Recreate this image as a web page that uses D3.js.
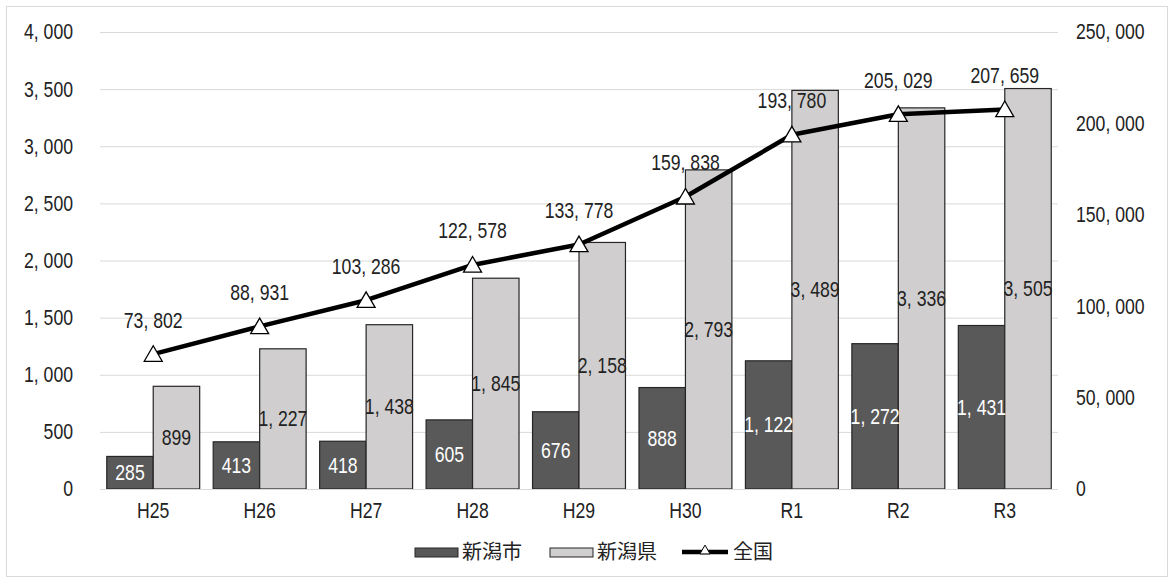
<!DOCTYPE html>
<html><head><meta charset="utf-8">
<script src="https://cdn.jsdelivr.net/npm/d3@7"></script>
<style>
body{margin:0;background:#fff;}
text{font-family:"Liberation Sans",Arial,sans-serif;}
.cjk{font-family:"Noto Sans CJK JP",sans-serif;}
</style></head>
<body><svg id="c" width="1171" height="578"></svg>
<script>
const categories = ["H25","H26","H27","H28","H29","H30","R1","R2","R3"];
const cityValues = [285,413,418,605,676,888,1122,1272,1431];
const prefValues = [899,1227,1438,1845,2158,2793,3489,3336,3505];
const nationValues = [73802,88931,103286,122578,133778,159838,193780,205029,207659];
const leftTicks = [0,500,1000,1500,2000,2500,3000,3500,4000];
const rightTicks = [0,50000,100000,150000,200000,250000];
const seriesNames = ["新潟市","新潟県","全国"];

const svg = d3.select("#c");
const L = 100, R = 1058, T = 32, B = 489;
const FS = 21.5, SX = 0.82;
const fmt = v => d3.format(",")(v).replace(/,/g, ", ");
const place = (fx, fy) => (d,i) => `translate(${fx(d,i)},${fy(d,i)}) scale(${SX},1)`;

svg.append("rect").attr("x",6.5).attr("y",6.5).attr("width",1161).attr("height",570)
  .attr("fill","#fff").attr("stroke","#d9d9d9");

const x = d3.scaleBand().domain(categories).range([L,R]).paddingInner(0.127).paddingOuter(0.0635);
const yL = d3.scaleLinear().domain([0,4000]).range([B,T]);
const yR = d3.scaleLinear().domain([0,250000]).range([B,T]);

// gridlines
svg.append("g").selectAll("line").data(leftTicks.filter(d=>d>0)).join("line")
  .attr("x1",L).attr("x2",R).attr("y1",d=>yL(d)+0.5).attr("y2",d=>yL(d)+0.5)
  .attr("stroke","#d9d9d9").attr("stroke-width",1);

// left axis labels
const gl = svg.append("g").attr("transform",`translate(${L-27},0)`)
  .call(d3.axisLeft(yL).tickValues(leftTicks).tickFormat(fmt).tickSize(0).tickPadding(0));
gl.select(".domain").remove();
gl.selectAll("text").attr("font-size",FS).attr("fill","#222").attr("font-family","Liberation Sans").attr("x",0).attr("transform",`scale(${SX},1)`);

// right axis labels
const gr = svg.append("g").attr("transform",`translate(${R+18},0)`)
  .call(d3.axisRight(yR).tickValues(rightTicks).tickFormat(fmt).tickSize(0).tickPadding(0));
gr.select(".domain").remove();
gr.selectAll("text").attr("font-size",FS).attr("fill","#222").attr("font-family","Liberation Sans").attr("x",0).attr("transform",`scale(${SX},1)`);

// bars
const bw = x.bandwidth()/2;
svg.append("g").selectAll("rect").data(categories).join("rect")
  .attr("x",d=>x(d)).attr("y",(d,i)=>yL(cityValues[i])).attr("width",bw)
  .attr("height",(d,i)=>B-yL(cityValues[i])).attr("fill","#595959").attr("stroke","#262626").attr("stroke-width",1.2);
svg.append("g").selectAll("rect").data(categories).join("rect")
  .attr("x",d=>x(d)+bw).attr("y",(d,i)=>yL(prefValues[i])).attr("width",bw)
  .attr("height",(d,i)=>B-yL(prefValues[i])).attr("fill","#d0cece").attr("stroke","#262626").attr("stroke-width",1.2);

// baseline
svg.append("line").attr("x1",L).attr("x2",R).attr("y1",B+0.5).attr("y2",B+0.5).attr("stroke","#d9d9d9");

// x axis labels
svg.append("g").selectAll("text").data(categories).join("text")
  .attr("transform",place(d=>x(d)+x.bandwidth()/2, ()=>510)).attr("dy","0.35em").attr("text-anchor","middle")
  .attr("font-size",FS).attr("fill","#222").text(d=>d);

// bar labels
svg.append("g").selectAll("text").data(categories).join("text")
  .attr("transform",place(d=>x(d)+bw/2, (d,i)=>(yL(cityValues[i])+B)/2)).attr("dy","0.35em")
  .attr("text-anchor","middle").attr("font-size",FS).attr("fill","#fff").text((d,i)=>fmt(cityValues[i]));
svg.append("g").selectAll("text").data(categories).join("text")
  .attr("transform",place(d=>x(d)+bw*1.5, (d,i)=>(yL(prefValues[i])+B)/2)).attr("dy","0.35em")
  .attr("text-anchor","middle").attr("font-size",FS).attr("fill","#222").text((d,i)=>fmt(prefValues[i]));

// line
const cx = d => x(d)+x.bandwidth()/2;
const line = d3.line().x((d,i)=>cx(categories[i])).y(d=>yR(d));
svg.append("path").datum(nationValues).attr("d",line).attr("fill","none")
  .attr("stroke","#000").attr("stroke-width",4.5).attr("stroke-linejoin","round");
const tri = d3.symbol().type(d3.symbolTriangle).size(140);
svg.append("g").selectAll("path").data(nationValues).join("path")
  .attr("transform",(d,i)=>`translate(${cx(categories[i])},${yR(d)+2})`).attr("d",tri)
  .attr("fill","#fff").attr("stroke","#000").attr("stroke-width",1.3);
svg.append("g").selectAll("text").data(nationValues).join("text")
  .attr("transform",place((d,i)=>cx(categories[i]), d=>yR(d)-34)).attr("dy","0.35em")
  .attr("text-anchor","middle").attr("font-size",FS).attr("fill","#222").text(d=>fmt(d));

// legend
const lg = svg.append("g");
lg.append("rect").attr("x",415).attr("y",548).attr("width",43).attr("height",9).attr("fill","#595959").attr("stroke","#262626");
lg.append("text").attr("class","cjk").attr("x",462).attr("y",552).attr("dy","0.35em").attr("font-size",20).attr("fill","#222").text(seriesNames[0]);
lg.append("rect").attr("x",550).attr("y",548).attr("width",43).attr("height",9).attr("fill","#d0cece").attr("stroke","#262626");
lg.append("text").attr("class","cjk").attr("x",597).attr("y",552).attr("dy","0.35em").attr("font-size",20).attr("fill","#222").text(seriesNames[1]);
lg.append("line").attr("x1",682).attr("x2",728).attr("y1",552).attr("y2",552).attr("stroke","#000").attr("stroke-width",4.5);
lg.append("path").attr("transform","translate(705,551)").attr("d",d3.symbol().type(d3.symbolTriangle).size(45)())
  .attr("fill","#fff").attr("stroke","#000").attr("stroke-width",1);
lg.append("text").attr("class","cjk").attr("x",733).attr("y",552).attr("dy","0.35em").attr("font-size",20).attr("fill","#222").text(seriesNames[2]);
</script></body></html>
